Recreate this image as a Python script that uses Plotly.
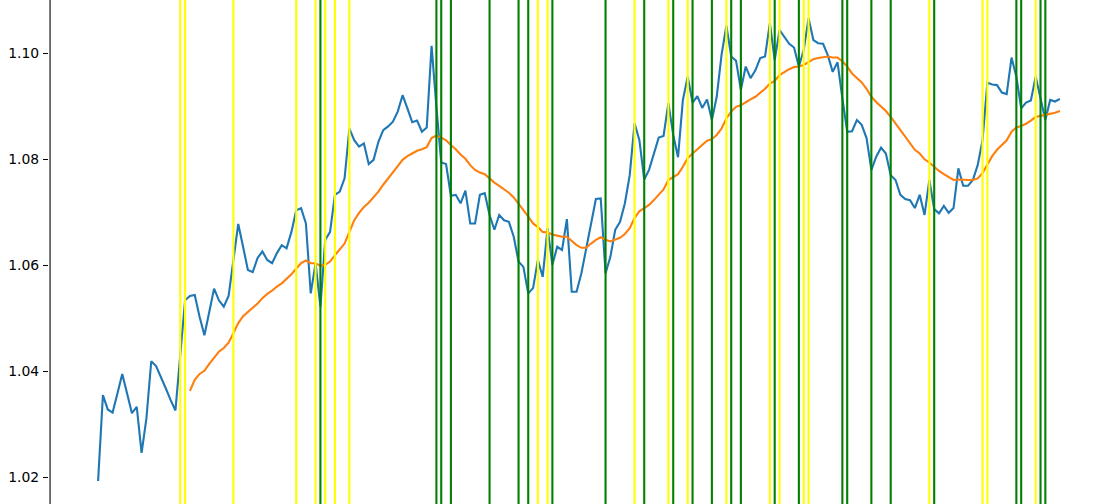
import plotly.graph_objects as go

# Blue series (price), one value per index 0..199
close = [
    1.0193, 1.0355, 1.0328, 1.0322, 1.0358, 1.0395, 1.0358, 1.0321, 1.0333, 1.0246,
    1.0311, 1.0419, 1.0410, 1.0390, 1.0368, 1.0346, 1.0326, 1.0430, 1.0534, 1.0542,
    1.0544, 1.0503, 1.0468, 1.0512, 1.0556, 1.0534, 1.0522, 1.0542, 1.0613, 1.0678,
    1.0635, 1.0591, 1.0587, 1.0614, 1.0626, 1.0610, 1.0604, 1.0623, 1.0638, 1.0632,
    1.0663, 1.0704, 1.0708, 1.0679, 1.0547, 1.0604, 1.0522, 1.0648, 1.0663, 1.0733,
    1.0739, 1.0764, 1.0858, 1.0836, 1.0824, 1.0830, 1.0791, 1.0799, 1.0833, 1.0855,
    1.0862, 1.0871, 1.0890, 1.0921, 1.0896, 1.0870, 1.0873, 1.0852, 1.0860, 1.1014,
    1.0899, 1.0794, 1.0791, 1.0731, 1.0733, 1.0717, 1.0741, 1.0679, 1.0679, 1.0733,
    1.0736, 1.0695, 1.0667, 1.0695, 1.0685, 1.0682, 1.0654, 1.0607, 1.0597, 1.0547,
    1.0557, 1.0610, 1.0578, 1.0670, 1.0601, 1.0635, 1.0629, 1.0687, 1.0550, 1.0550,
    1.0585, 1.0632, 1.0685, 1.0725, 1.0726, 1.0585, 1.0616, 1.0667, 1.0682, 1.0717,
    1.0770, 1.0868, 1.0836, 1.0762, 1.0780, 1.0811, 1.0841, 1.0844, 1.0906, 1.0846,
    1.0804, 1.0912, 1.0956, 1.0907, 1.0919, 1.0897, 1.0913, 1.0874, 1.0918, 1.0997,
    1.1052, 1.0994, 1.0986, 1.0931, 1.0975, 1.0953, 1.0968, 1.0991, 1.0994, 1.1057,
    1.0987, 1.1044, 1.1031, 1.1018, 1.1011, 1.0975, 1.1006, 1.1066, 1.1025, 1.1019,
    1.1018, 1.0996, 1.0965, 1.0983, 1.0915, 1.0852, 1.0853, 1.0874, 1.0865, 1.0840,
    1.0780, 1.0805, 1.0822, 1.0811, 1.0770, 1.0761, 1.0733, 1.0725, 1.0723, 1.0708,
    1.0733, 1.0695, 1.0761, 1.0706, 1.0698, 1.0712, 1.0699, 1.0708, 1.0783, 1.0750,
    1.0750, 1.0761, 1.0789, 1.0836, 1.0945, 1.0941, 1.0940, 1.0926, 1.0923, 1.0992,
    1.0956, 1.0896, 1.0907, 1.0911, 1.0956, 1.0915, 1.0874, 1.0912, 1.0909, 1.0914,
]

# Orange series (moving average); starts at index 19
ma = [None] * 19 + [
    1.0363, 1.0384, 1.0395, 1.0401, 1.0414, 1.0426, 1.0437, 1.0444, 1.0454, 1.0472,
    1.0491, 1.0504, 1.0512, 1.0520, 1.0528, 1.0538, 1.0546, 1.0552, 1.0560, 1.0566,
    1.0574, 1.0583, 1.0594, 1.0604, 1.0609, 1.0604, 1.0604, 1.0599, 1.0601, 1.0607,
    1.0619, 1.0629, 1.0641, 1.0663, 1.0685, 1.0699, 1.0710, 1.0718, 1.0728, 1.0739,
    1.0752, 1.0763, 1.0774, 1.0787, 1.0799, 1.0806, 1.0811, 1.0816, 1.0819, 1.0823,
    1.0840, 1.0845, 1.0841, 1.0836, 1.0827, 1.0819, 1.0809, 1.0801, 1.0789, 1.0780,
    1.0775, 1.0772, 1.0764, 1.0756, 1.0750, 1.0744, 1.0737, 1.0728, 1.0717, 1.0704,
    1.0692, 1.0679, 1.0672, 1.0663, 1.0662, 1.0658, 1.0656, 1.0654, 1.0654, 1.0646,
    1.0638, 1.0633, 1.0633, 1.0641, 1.0648, 1.0653, 1.0648, 1.0645, 1.0648, 1.0652,
    1.0659, 1.0670, 1.0689, 1.0702, 1.0708, 1.0714, 1.0723, 1.0733, 1.0743, 1.0761,
    1.0767, 1.0772, 1.0786, 1.0802, 1.0811, 1.0819, 1.0827, 1.0835, 1.0838, 1.0846,
    1.0858, 1.0877, 1.0890, 1.0899, 1.0902, 1.0908, 1.0913, 1.0918, 1.0925, 1.0933,
    1.0943, 1.0948, 1.0959, 1.0965, 1.0970, 1.0974, 1.0975, 1.0978, 1.0984, 1.0989,
    1.0991, 1.0993, 1.0994, 1.0992, 1.0992, 1.0985, 1.0975, 1.0962, 1.0953, 1.0945,
    1.0933, 1.0918, 1.0908, 1.0899, 1.0891, 1.0880, 1.0868, 1.0855, 1.0843, 1.0830,
    1.0818, 1.0811, 1.0800, 1.0794, 1.0786, 1.0778, 1.0772, 1.0766, 1.0761, 1.0762,
    1.0761, 1.0761, 1.0761, 1.0764, 1.0774, 1.0789, 1.0806, 1.0818, 1.0828, 1.0836,
    1.0852, 1.0860, 1.0863, 1.0867, 1.0873, 1.0880, 1.0882, 1.0884, 1.0885, 1.0888,
    1.0891,
]

# Indices of vertical marker lines
yellow_idx = [17, 18, 28, 41, 45, 47, 49, 52, 91, 93, 111, 118, 122, 130, 139, 141,
              146, 147, 172, 183, 184, 194]
green_idx = [46, 70, 71, 73, 81, 87, 89, 94, 105, 113, 119, 123, 127, 131, 133, 140,
             145, 154, 155, 160, 164, 173, 190, 191, 195, 196]

y_ticks = [1.02, 1.04, 1.06, 1.08, 1.10]
y_tick_text = ["1.02", "1.04", "1.06", "1.08", "1.10"]

x = list(range(len(close)))
x_left = -9.95  # matplotlib-style 5% margin edge, where the spine sits
y_range = [1.01496, 1.11006]

fig = go.Figure()
fig.add_trace(go.Scatter(x=x, y=close, mode="lines",
                         line=dict(color="#1f77b4", width=2.1), hoverinfo="skip"))
fig.add_trace(go.Scatter(x=x, y=ma, mode="lines",
                         line=dict(color="#ff7f0e", width=2.1), hoverinfo="skip"))

for i in yellow_idx:
    fig.add_vline(x=i, line=dict(color="#ffff00", width=2.1), layer="above")
for i in green_idx:
    fig.add_vline(x=i, line=dict(color="#008000", width=2.1), layer="above")

# left spine (solid rectangle one pixel wide)
fig.add_shape(type="rect", xref="x", yref="paper",
              x0=x_left - 0.5 / 4.833, x1=x_left + 0.6 / 4.833, y0=0, y1=1,
              fillcolor="black", line=dict(width=0), layer="above")

fig.update_layout(
    width=1100, height=504,
    margin=dict(l=49, r=0, t=0, b=0),
    paper_bgcolor="white", plot_bgcolor="white",
    showlegend=False,
    hovermode=False,
    font=dict(family="DejaVu Sans", size=14, color="black"),
    xaxis=dict(range=[x_left - 1 / 4.833, x_left + 1050 / 4.833],
               showgrid=False, zeroline=False,
               showline=False, showticklabels=False, ticks=""),
    yaxis=dict(range=y_range, showgrid=False, zeroline=False,
               showline=False,
               ticks="outside", ticklen=5, tickwidth=1.1, tickcolor="black",
               ticklabelstandoff=1,
               tickvals=y_ticks, ticktext=y_tick_text,
               tickfont=dict(family="DejaVu Sans", size=13.9, color="black")),
)

fig.write_html("out.html",
               config={"displayModeBar": False, "staticPlot": True},
               post_script="document.body.style.margin='0';document.body.style.overflow='hidden';")
